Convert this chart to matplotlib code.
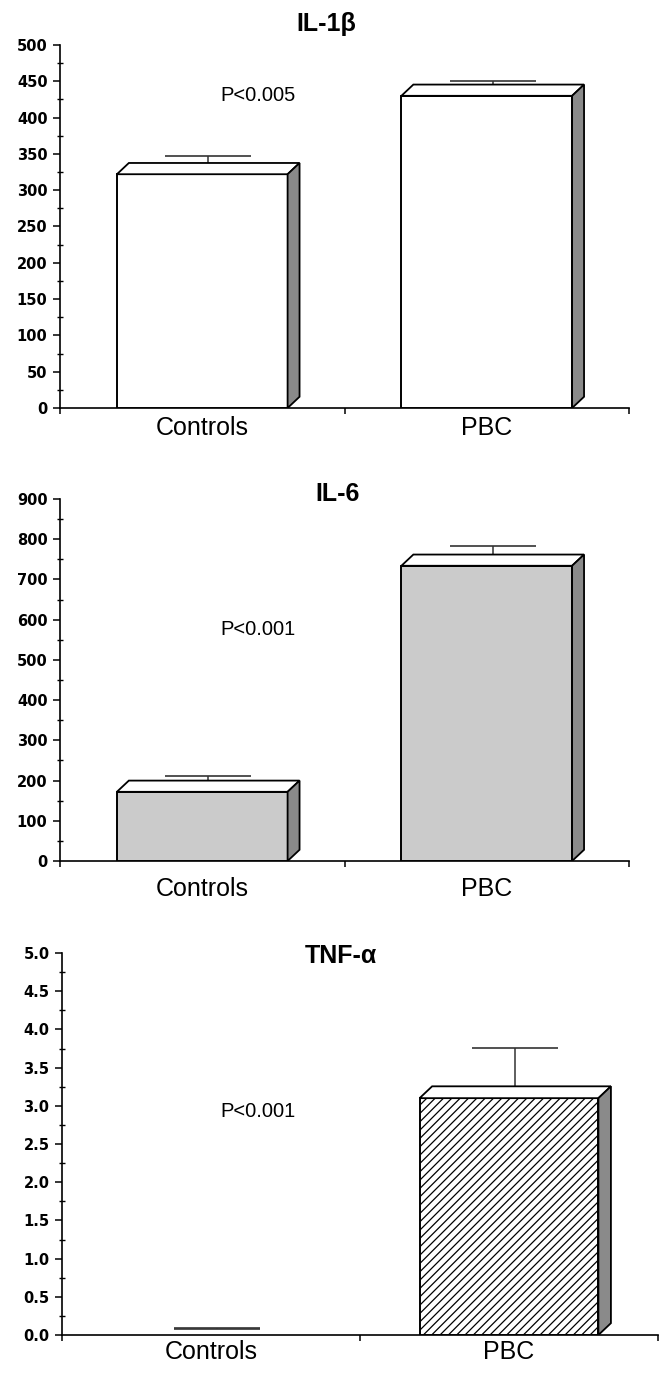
import numpy as np
import matplotlib
matplotlib.use("Agg")
import matplotlib.pyplot as plt
from matplotlib.patches import Polygon
from matplotlib.ticker import MultipleLocator, FixedLocator

# data
groups = ["Controls", "PBC"]

il1b_mean = [322, 430]
il1b_se = [17, 13]

il6_mean = [172, 734]
il6_se = [25, 35]

tnf_mean = [0.0, 3.10]
tnf_se = [0.01, 0.58]

titles = ["IL-1\u03b2", "IL-6", "TNF-\u03b1"]
pvals = ["P<0.005", "P<0.001", "P<0.001"]

W, H = 663, 1373
fig = plt.figure(figsize=(W / 100, H / 100), dpi=100)
fig.patch.set_facecolor("white")
plt.rcParams["hatch.linewidth"] = 0.9


def px_axes(x0, x1, ytop, ybot):
    return fig.add_axes([x0 / W, 1 - ybot / H, (x1 - x0) / W, (ybot - ytop) / H])


def draw_panel(ax, means, ses, ymax, step, face, hatch, ppos, label_pad, fmt):
    x = np.arange(len(groups))
    bw = 0.6
    dx = 0.042
    dy = 0.031 * ymax
    for xi, m in zip(x, means):
        if m <= 0:
            continue
        ax.bar(xi, m, width=bw, color=face, edgecolor="black", linewidth=1.4,
               hatch=hatch, zorder=3)
        x0, x1 = xi - bw / 2, xi + bw / 2
        top = Polygon([(x0, m), (x1, m), (x1 + dx, m + dy), (x0 + dx, m + dy)],
                      closed=True, facecolor="white", edgecolor="black",
                      linewidth=1.3, zorder=3)
        side = Polygon([(x1, 0), (x1 + dx, dy), (x1 + dx, m + dy), (x1, m)],
                       closed=True, facecolor="#8a8a8a", edgecolor="black",
                       linewidth=1.3, zorder=3)
        ax.add_patch(top)
        ax.add_patch(side)
    for xi, m, s in zip(x, means, ses):
        ax.errorbar(xi + dx / 2, m + dy / 2, yerr=[[0], [s]], fmt="none",
                    ecolor="#333333", elinewidth=1.1, capsize=31, capthick=1.2,
                    zorder=2)

    ax.set_xlim(-0.5, 1.5)
    ax.set_ylim(0, ymax)
    for s in ["top", "right"]:
        ax.spines[s].set_visible(False)
    ax.spines["left"].set_linewidth(1.2)
    ax.spines["bottom"].set_linewidth(1.2)

    ax.yaxis.set_major_locator(MultipleLocator(step))
    ax.yaxis.set_minor_locator(MultipleLocator(step / 2))
    ax.tick_params(axis="y", which="major", direction="out", length=5, width=1.1,
                   labelsize=10.5, pad=4)
    ax.tick_params(axis="y", which="minor", direction="inout", length=4, width=1.0)
    for lab in ax.get_yticklabels():
        lab.set_fontweight("bold")
        lab.set_family("DejaVu Sans")
    ax.yaxis.set_major_formatter(plt.FuncFormatter(lambda v, p: fmt.format(v)))

    ax.set_xticks(x)
    ax.set_xticklabels(groups, fontsize=18, family="Liberation Sans")
    ax.xaxis.set_minor_locator(FixedLocator([-0.5, 0.5, 1.5]))
    ax.tick_params(axis="x", which="major", length=0, pad=label_pad)
    ax.tick_params(axis="x", which="minor", direction="out", length=4, width=1.1)

    ax.text(ppos[0], ppos[1], ppos[2], fontsize=14.5, family="Liberation Sans",
            ha="center", va="center")


ax1 = px_axes(60, 629, 45, 408)
draw_panel(ax1, il1b_mean, il1b_se, 500, 50, "white", None,
           (0.196, 430, pvals[0]), 6, "{:.0f}")

ax2 = px_axes(60, 629, 499, 861)
draw_panel(ax2, il6_mean, il6_se, 900, 100, "#cbcbcb", None,
           (0.196, 575, pvals[1]), 11.5, "{:.0f}")

ax3 = px_axes(62, 658, 953, 1335)
draw_panel(ax3, tnf_mean, tnf_se, 5.0, 0.5, "white", "////",
           (0.158, 2.93, pvals[2]), 3.6, "{:.1f}")

title_pos = [(326, 24), (338, 494), (341, 956)]
for t, (tx, ty) in zip(titles, title_pos):
    fig.text(tx / W, 1 - ty / H, t, fontsize=18, fontweight="bold",
             family="Liberation Sans", ha="center", va="center")

fig.savefig("out.png", dpi=100, facecolor="white")
